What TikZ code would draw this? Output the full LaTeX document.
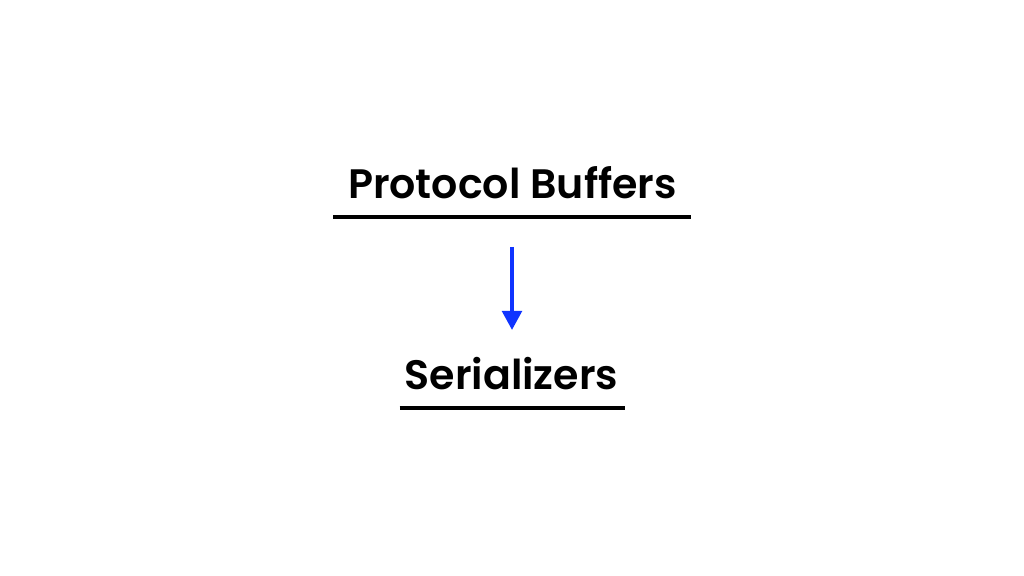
\documentclass[tikz,border=0pt]{standalone}
\usepackage{fontspec}
\setmainfont{Poppins}
\newfontfamily\medfont{Poppins SemiBold}
\usetikzlibrary{arrows.meta}
\definecolor{arrowblue}{RGB}{16,52,255}
\tikzset{
  lbl/.style={inner sep=0pt, anchor=base, font=\medfont\fontsize{11.7pt}{13pt}\selectfont, text=black},
  ul/.style={line width=0.04cm, black},
  conn/.style={line width=0.04cm, arrowblue, -{Triangle[width=0.194cm,length=0.19cm]}}
}
\begin{document}
\begin{tikzpicture}[x=0.01cm,y=-0.01cm]
\useasboundingbox (0,0) rectangle (1024,576);
\node[lbl] (pb) at (512.5,198.3) {Protocol Buffers};
\coordinate (pbl) at (333,217);
\coordinate (pbr) at (691,217);
\draw[ul] (pbl) -- (pbr);
\coordinate (a1) at (512,247);
\coordinate (a2) at (512,330);
\draw[conn] (a1) -- (a2);
\node[lbl] (ser) at (511.5,389.5) {Serializers};
\coordinate (serl) at (399.5,408);
\coordinate (serr) at (624.5,408);
\draw[ul] (serl) -- (serr);
\end{tikzpicture}
\end{document}
